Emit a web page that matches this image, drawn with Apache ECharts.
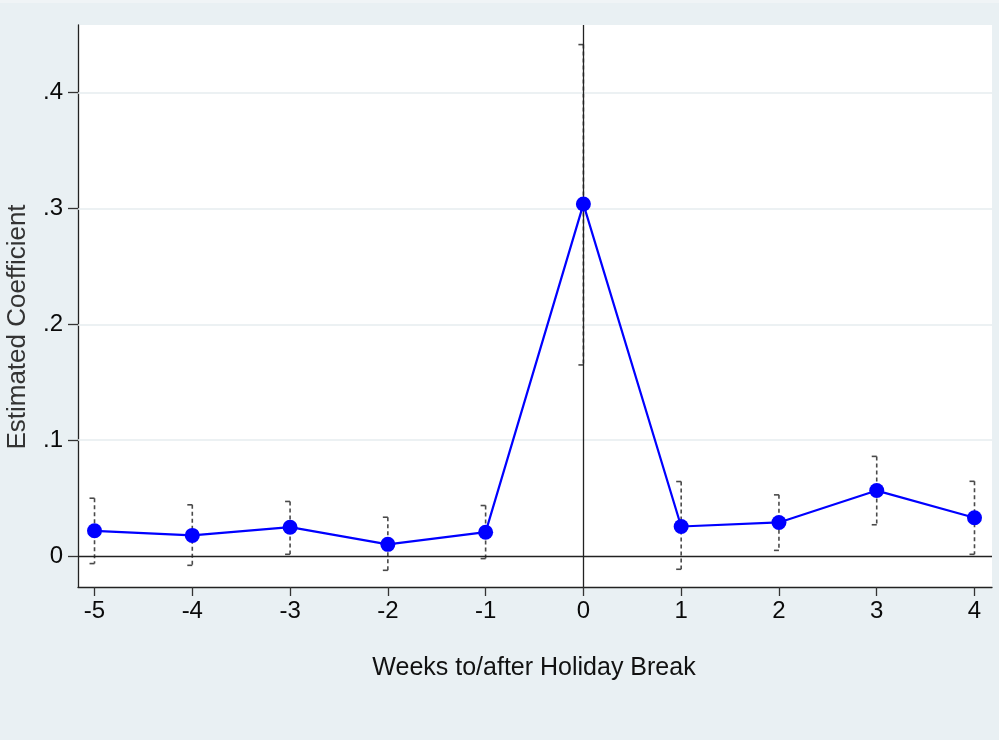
<!DOCTYPE html>
<html><head><meta charset="utf-8">
<script src="https://cdn.jsdelivr.net/npm/echarts@6/dist/echarts.min.js"></script>
<style>html,body{margin:0;padding:0;background:#e9f0f3}#c{width:999px;height:740px}</style>
</head><body><div id="c"></div>
<script>
const weeks = [-5, -4, -3, -2, -1, 0, 1, 2, 3, 4];
const coef = [0.0218, 0.0178, 0.0249, 0.0101, 0.0206, 0.3037, 0.0255, 0.0290, 0.0565, 0.0330];
const ciLow = [-0.0065, -0.0080, 0.0015, -0.0123, -0.0022, 0.1649, -0.0114, 0.0049, 0.0270, 0.0015];
const ciHigh = [0.0499, 0.0442, 0.0471, 0.0335, 0.0436, 0.4413, 0.0643, 0.0528, 0.0860, 0.0645];
const xTicks = [-5, -4, -3, -2, -1, 0, 1, 2, 3, 4];
const yTicks = [0, 0.1, 0.2, 0.3, 0.4];
const yTickLabels = ['0', '.1', '.2', '.3', '.4'];
const xTitle = 'Weeks to/after Holiday Break';
const yTitle = 'Estimated Coefficient';

const FONT = '"Liberation Sans", Arial, Helvetica, sans-serif';
const chart = echarts.init(document.getElementById('c'), null, {renderer: 'canvas'});

const option = {
  backgroundColor: '#e9f0f3',
  animation: false,
  grid: {left: 78, right: 7, top: 25, bottom: 153, show: true, backgroundColor: '#ffffff', borderWidth: 0},
  xAxis: {
    type: 'value', min: -5.169, max: 4.179,
    axisLine: {show: true, onZero: false, lineStyle: {color: '#222', width: 1.3}},
    axisTick: {show: true, customValues: xTicks, length: 9, lineStyle: {color: '#333', width: 1.3}},
    axisLabel: {show: true, customValues: xTicks, fontSize: 24, color: '#0a0a0a', margin: 12, fontFamily: FONT},
    splitLine: {show: false}
  },
  yAxis: {
    type: 'value', min: -0.0267, max: 0.4582,
    axisLine: {show: true, onZero: false, lineStyle: {color: '#222', width: 1.3}},
    axisTick: {show: true, customValues: yTicks, length: 10, lineStyle: {color: '#333', width: 1.3}},
    axisLabel: {
      show: true, customValues: yTicks, fontSize: 24, color: '#0a0a0a', margin: 15, fontFamily: FONT,
      formatter: function (v) {
        let best = 0;
        yTicks.forEach(function (t, i) { if (Math.abs(t - v) < Math.abs(yTicks[best] - v)) best = i; });
        return yTickLabels[best];
      }
    },
    splitLine: {show: false}
  },
  graphic: [
    {type: 'rect', shape: {x: 0, y: 0, width: 999, height: 3}, style: {fill: '#f0f4f6'}, silent: true},
    {type: 'text', x: 534, y: 668, style: {text: xTitle, font: '25px ' + FONT, fill: '#111', textAlign: 'center', textVerticalAlign: 'middle'}},
    {type: 'text', x: 18, y: 327, rotation: Math.PI / 2, style: {text: yTitle, font: '26px ' + FONT, fill: '#333', textAlign: 'center', textVerticalAlign: 'middle'}}
  ],
  series: [
    {
      type: 'line', data: [], silent: true, z: 1,
      markLine: {
        silent: true, symbol: ['none', 'none'], label: {show: false},
        lineStyle: {color: '#e6ecef', width: 1.5, type: 'solid'},
        data: yTicks.filter(function (t) { return t !== 0; }).map(function (t) { return {yAxis: t}; })
      }
    },
    {
      type: 'custom', z: 2, silent: true,
      data: weeks.map(function (w, i) { return [w, ciLow[i], ciHigh[i]]; }),
      encode: {x: 0, y: [1, 2]},
      renderItem: function (params, api) {
        const x = api.value(0), lo = api.value(1), hi = api.value(2);
        const p1 = api.coord([x, hi]), p2 = api.coord([x, lo]);
        const st = {stroke: '#4a4a4a', lineWidth: 1.6};
        return {
          type: 'group',
          children: [
            {type: 'line', shape: {x1: p1[0], y1: p1[1], x2: p2[0], y2: p2[1]}, style: Object.assign({lineDash: [4, 3]}, st)},
            {type: 'line', shape: {x1: p1[0] - 5, y1: p1[1], x2: p1[0], y2: p1[1]}, style: st},
            {type: 'line', shape: {x1: p2[0] - 5, y1: p2[1], x2: p2[0], y2: p2[1]}, style: st}
          ]
        };
      }
    },
    {
      type: 'line', data: [], silent: true, z: 3,
      markLine: {
        silent: true, symbol: ['none', 'none'], label: {show: false},
        lineStyle: {color: '#222', width: 1.3, type: 'solid'},
        data: [{yAxis: 0}, {xAxis: 0}]
      }
    },
    {
      type: 'line', z: 5,
      data: weeks.map(function (w, i) { return [w, coef[i]]; }),
      symbol: 'circle', symbolSize: 15,
      lineStyle: {color: '#0000ff', width: 2.2},
      itemStyle: {color: '#0000ff'}
    }
  ]
};
chart.setOption(option);
</script>
</body></html>
